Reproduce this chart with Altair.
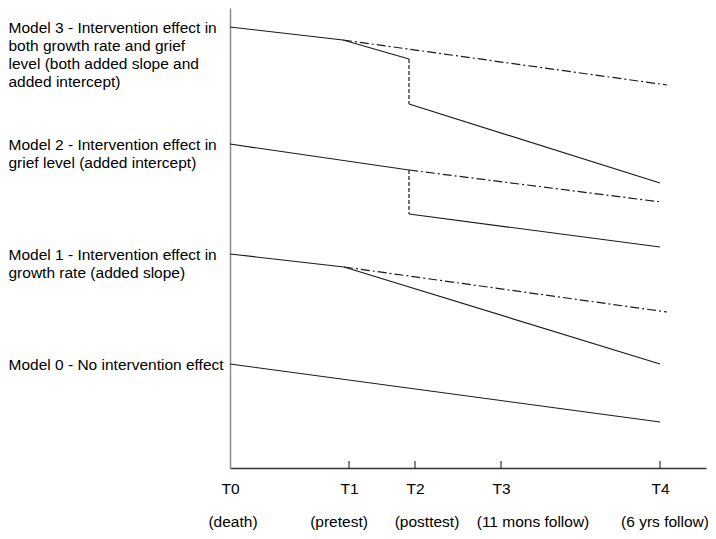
import json
import altair as alt
import pandas as pd

# ---- data (arbitrary units) ----
tick_values = [0, 119, 185, 271, 430]
tick_labels = ["T0", "T1", "T2", "T3", "T4"]
phase_labels = ["(death)", "(pretest)", "(posttest)", "(11 mons follow)", "(6 yrs follow)"]
phase_label_x = [3, 109, 197, 303, 435]

model_levels = [104, 214, 324, 441]
model_labels = [
    ["Model 0 - No intervention effect"],
    ["Model 1 - Intervention effect in", "growth rate (added slope)"],
    ["Model 2 - Intervention effect in", "grief level (added intercept)"],
    ["Model 3 - Intervention effect in", "both growth rate and grief",
     "level (both added slope and", "added intercept)"],
]

m0_x = [0, 430]
m0_y = [104, 46]
m1_x = [0, 114, 430]
m1_y = [214, 201, 104]
m1_cf_x = [114, 437]
m1_cf_y = [201, 156]
m2_x = [0, 179]
m2_y = [324, 298]
m2_jump_x = [179, 179]
m2_jump_y = [298, 254]
m2_post_x = [179, 430]
m2_post_y = [254, 221]
m2_cf_x = [179, 431]
m2_cf_y = [298, 266]
m3_x = [0, 113, 179]
m3_y = [441, 428, 409]
m3_jump_x = [179, 179]
m3_jump_y = [409, 364]
m3_post_x = [179, 430]
m3_post_y = [364, 285]
m3_cf_x = [113, 437]
m3_cf_y = [428, 383]

segments = [
    ("m0", "solid", m0_x, m0_y),
    ("m1", "solid", m1_x, m1_y),
    ("m1cf", "dashdot", m1_cf_x, m1_cf_y),
    ("m2", "solid", m2_x, m2_y),
    ("m2jump", "dashed", m2_jump_x, m2_jump_y),
    ("m2post", "solid", m2_post_x, m2_post_y),
    ("m2cf", "dashdot", m2_cf_x, m2_cf_y),
    ("m3", "solid", m3_x, m3_y),
    ("m3jump", "dashed", m3_jump_x, m3_jump_y),
    ("m3post", "solid", m3_post_x, m3_post_y),
    ("m3cf", "dashdot", m3_cf_x, m3_cf_y),
]

rows = []
for name, style, xs, ys in segments:
    for i, (xv, yv) in enumerate(zip(xs, ys)):
        rows.append({"seg": name, "style": style, "x": xv, "y": yv, "order": i})
df = pd.DataFrame(rows)

ticks_df = pd.DataFrame({"x": tick_values[1:]})
phase_df = pd.DataFrame({"x": phase_label_x, "label": phase_labels})

FONT = "Liberation Sans"
FS = 15.5
W, H = 476, 460

x_scale = alt.Scale(domain=[0, W], nice=False, zero=False)
y_scale = alt.Scale(domain=[0, H], nice=False, zero=False)

x_label_expr = "{}[indexof({}, datum.value)]".format(json.dumps(tick_labels), json.dumps(tick_values))
y_label_expr = "{}[indexof({}, datum.value)]".format(json.dumps(model_labels), json.dumps(model_levels))

x_axis = alt.Axis(
    values=tick_values, labelExpr=x_label_expr, ticks=False, grid=False,
    domainColor="#333333", domainWidth=1.5, labelFontSize=FS, labelFont=FONT,
    labelColor="#000000", labelPadding=13, labelBaseline="top", labelFlush=False,
    labelOverlap=False, title=None,
)
y_axis = alt.Axis(
    values=model_levels, labelExpr=y_label_expr, ticks=False, grid=False,
    domainColor="#8c8c8c", domainWidth=1.5, labelFontSize=FS, labelFont=FONT,
    labelColor="#000000", labelPadding=222, labelAlign="left", labelBaseline="top",
    labelOffset=-7, labelLineHeight=18, labelLimit=400, labelFlush=False,
    labelOverlap=False, title=None,
)

base = alt.Chart(df)

def seg_layer(style, dash):
    kw = {"color": "#1a1a1a", "strokeWidth": 1.2}
    if dash:
        kw["strokeDash"] = dash
    return base.transform_filter(alt.datum.style == style).mark_line(**kw).encode(
        x=alt.X("x:Q", scale=x_scale, axis=x_axis),
        y=alt.Y("y:Q", scale=y_scale, axis=y_axis),
        detail="seg:N",
        order="order:O",
    )

solid = seg_layer("solid", None)
dashdot = seg_layer("dashdot", [9, 3, 2, 3])
dashed = seg_layer("dashed", [4, 2])

ticks = alt.Chart(ticks_df).mark_rule(color="#333333", strokeWidth=1.2).encode(
    x=alt.X("x:Q", scale=x_scale),
    y=alt.value(H),
    y2=alt.value(H - 7),
)

phase = alt.Chart(phase_df).mark_text(
    font=FONT, fontSize=FS, color="#000000", align="center", baseline="middle"
).encode(
    x=alt.X("x:Q", scale=x_scale),
    y=alt.value(H + 54),
    text="label:N",
)

chart = alt.layer(solid, dashdot, dashed, ticks, phase).properties(
    width=W, height=H,
    autosize=alt.AutoSizeParams(type="none"),
    padding={"left": 222, "top": 0, "right": 2, "bottom": 62},
).configure_view(stroke=None)

chart.save("out.html", embed_options={"renderer": "svg", "actions": False})
